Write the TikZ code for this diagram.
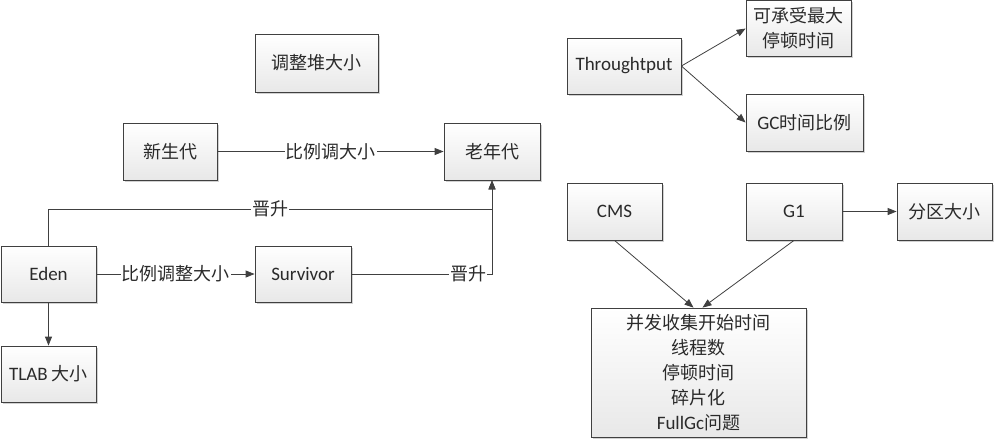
\documentclass[tikz,border=0pt]{standalone}
\usepackage{fontspec}
\setmainfont{Carlito}
\newfontfamily\cjk{Noto Sans CJK SC}
\newcommand\zhtxt[1]{{\cjk\fontsize{18}{25}\selectfont #1}}
\usetikzlibrary{arrows.meta,shadows}
\definecolor{linec}{HTML}{404040}
\definecolor{textc}{HTML}{2a2a2a}
\tikzset{
  box/.style={draw=linec, line width=0.8pt, top color=white, bottom color=black!9,
    drop shadow={shadow xshift=1.5pt, shadow yshift=-1.5pt, fill=black!30, opacity=0.6},
    minimum height=57pt, inner sep=2pt, text=textc, align=center,
    font=\fontsize{19}{25}\selectfont},
  conn/.style={draw=linec, line width=0.8pt, -{Triangle[length=9pt,width=7pt]}},
  lbl/.style={fill=white, inner sep=1pt, text=textc, font=\fontsize{18}{22}\selectfont\cjk}
}
\begin{document}
\begin{tikzpicture}[x=1pt,y=-1pt]
\useasboundingbox (0,0) rectangle (995,440);
% nodes
\node[box, minimum width=123pt, minimum height=58pt] (heap) at (316.5,63) {\zhtxt{调整堆大小}};
\node[box, minimum width=94pt] (young) at (170,151.5) {\zhtxt{新生代}};
\node[box, minimum width=96pt] (old) at (492,151.5) {\zhtxt{老年代}};
\node[box, minimum width=95pt, minimum height=56pt] (eden) at (48.5,274) {Eden};
\node[box, minimum width=96pt, minimum height=56pt] (surv) at (303,274) {Survivor};
\node[box, minimum width=95pt, minimum height=56pt] (tlab) at (48.5,374) {TLAB \zhtxt{大小}};
\node[box, minimum width=114pt, minimum height=56pt] (thr) at (624,66) {Throughtput};
\node[box, minimum width=105pt, minimum height=56pt] (pause) at (798.5,28.5) {\zhtxt{可承受最大}\\\zhtxt{停顿时间}};
\node[box, minimum width=117pt] (ratio) at (804.5,122.5) {GC\zhtxt{时间比例}};
\node[box, minimum width=95pt] (cms) at (614.5,211.5) {CMS};
\node[box, minimum width=96pt] (g1) at (794,211.5) {G1};
\node[box, minimum width=95pt] (part) at (944.5,211.5) {\zhtxt{分区大小}};
\node[box, minimum width=215pt, minimum height=129pt] (big) at (698.5,372.5)
  {\zhtxt{并发收集开始时间}\\\zhtxt{线程数}\\\zhtxt{停顿时间}\\\zhtxt{碎片化}\\FullGc\zhtxt{问题}};
% connectors
\coordinate (j) at (492,209);
\draw[conn] (young) -- node[lbl]{比例调大小} (old);
\draw[conn] (eden) -- node[lbl]{比例调整大小} (surv);
\draw[conn] (eden) -- (tlab);
\draw[conn] (eden.north) |- node[lbl, pos=0.75]{晋升} (j) -- (old.south);
\draw[conn] (surv.east) -| node[lbl, pos=0.415]{晋升} (old.south);
\draw[conn] (thr.east) -- (pause.west);
\draw[conn] (thr.east) -- (ratio.west);
\draw[conn] (g1) -- (part);
\draw[conn] (cms.south) -- ([xshift=-5pt]big.north);
\draw[conn] (g1.south) -- ([xshift=4pt]big.north);
\end{tikzpicture}
\end{document}
